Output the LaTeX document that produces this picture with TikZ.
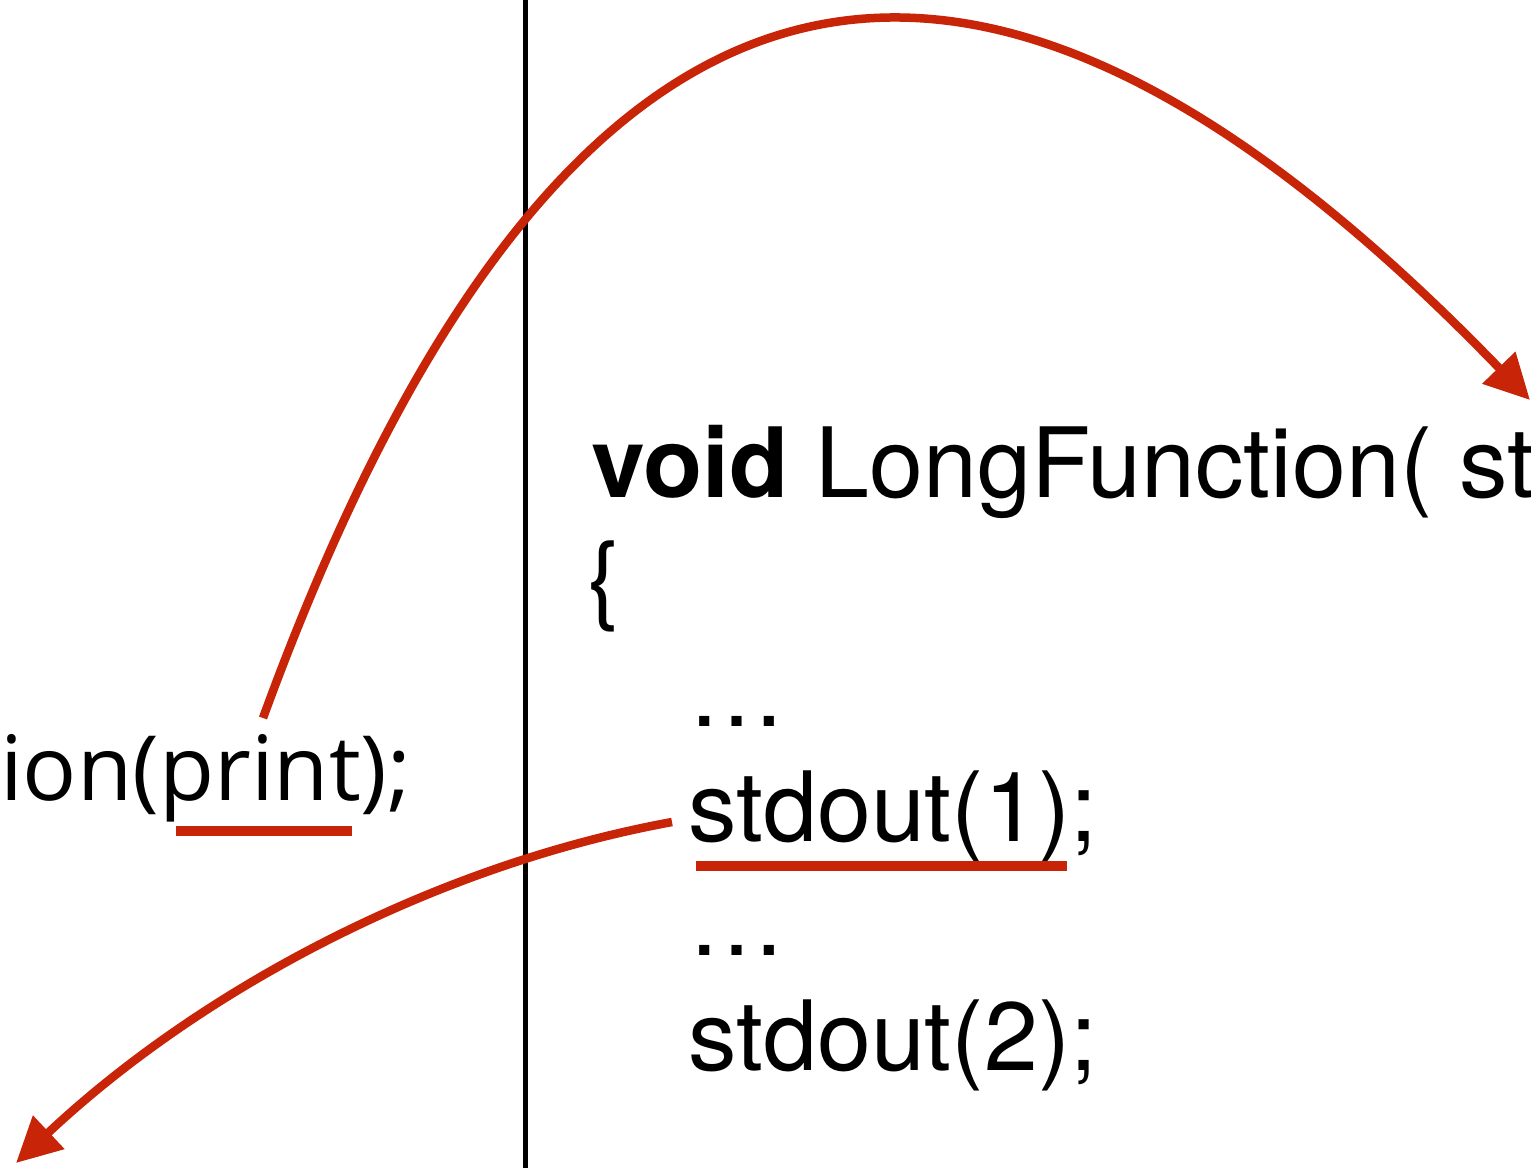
\documentclass[tikz,border=0pt]{standalone}
\usepackage{fontspec}
\setmainfont{TeX Gyre Heros}
\newfontfamily\humanist{Open Sans}
\usetikzlibrary{arrows.meta}
\definecolor{arrowred}{RGB}{200,36,8}

\begin{document}
\begin{tikzpicture}[x=1pt,y=-1pt,
    code/.style={anchor=base west, inner sep=0pt, font=\fontsize{97}{115}\selectfont},
    redmark/.style={draw=arrowred, line width=10pt},
    redarrow/.style={draw=arrowred, line width=8.5pt, -{Triangle[length=45pt,width=44pt]}}]
    \useasboundingbox (0,0) rectangle (1531,1168);
    \clip (0,0) rectangle (1531,1168);

    % Divider
    \coordinate (divtop) at (525.5,0);
    \coordinate (divbot) at (525.5,1168);
    \draw[line width=4.5pt] (divtop) -- (divbot);

    % Caller side
    \node[code, font=\humanist\fontsize{90}{100}\selectfont] (caller) at (0,800) {ion(print);};

    % Callee side
    \node[code] (sig) at (591,497) {\textbf{void} LongFunction( st};
    \node[code] (brace) at (587,611) {\{};
    \node[code] (dotsA) at (688,726) {…};
    \node[code] (callA) at (688,841) {stdout(1);};
    \node[code] (dotsB) at (688,955) {…};
    \node[code] (callB) at (688,1070) {stdout(2);};

    % Underlines
    \coordinate (printL) at (176,831);
    \coordinate (printR) at (352,831);
    \draw[redmark] (printL) -- (printR);
    \coordinate (outL) at (696,866);
    \coordinate (outR) at (1067,866);
    \draw[redmark] (outL) -- (outR);

    % Jump into the callee and back
    \coordinate (jumpfrom) at (263,718);
    \coordinate (jumpto) at (1530,400);
    \draw[redarrow] (jumpfrom) .. controls (600,-205) and (1047,-100) .. (jumpto);
    \coordinate (backfrom) at (672,822);
    \coordinate (backto) at (16,1163);
    \draw[redarrow] (backfrom) .. controls (432,866) and (199,991) .. (backto);
\end{tikzpicture}
\end{document}
